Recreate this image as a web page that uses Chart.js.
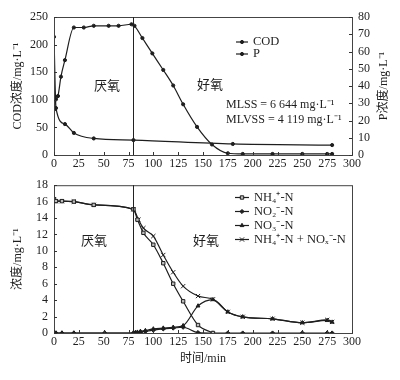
<!DOCTYPE html>
<html>
<head>
<meta charset="utf-8">
<script src="https://cdn.jsdelivr.net/npm/chart.js@4/dist/chart.umd.min.js"></script>
<style>
html,body{margin:0;padding:0;background:#fff;}
#wrap{width:400px;height:380px;position:relative;}
canvas{display:block;}
</style>
</head>
<body>
<div id="wrap">
<canvas id="top" width="400" height="172"></canvas>
<canvas id="bot" width="400" height="208"></canvas>
</div>
<script>
// ---------- data ----------
const phaseBoundary = 80;           // min, anaerobic / aerobic switch
const xTicksMax = 300;

// top panel
const codTime   = [0, 2, 11, 20, 40, 80, 180, 280];
const codValues = [214, 85, 56, 40, 30, 27, 20, 18];                 // mg/L (left axis)
const pTime   = [0, 2, 4, 7, 11, 20, 30, 40, 55, 65, 78, 81, 89, 99, 110, 120, 130, 144, 159, 175, 190, 220, 250, 275, 280];
const pValues = [26.2, 32.3, 34.2, 45.4, 55.0, 73.9, 73.9, 74.9, 74.9, 74.9, 75.8, 74.9, 67.8, 58.9, 49.3, 40.3, 29.4, 16.3, 6.1, 1.0, 0.6, 0.6, 0.6, 0.6, 0.6]; // mg/L (right axis)

// bottom panel
const nh4Time   = [0, 2, 8, 20, 40, 80, 84, 90, 100, 110, 120, 130, 145, 160];
const nh4Values = [16.3, 16.06, 16.06, 16.0, 15.6, 15.06, 13.8, 12.2, 10.75, 8.5, 6.0, 3.86, 0.97, 0];
const noxTime   = [0, 2, 8, 20, 51, 80, 82, 84, 87, 92, 100, 110, 120, 130, 145, 160, 175, 190, 220, 250, 275, 280];
const no2Values = [0, 0, 0, 0, 0, 0, 0.03, 0.06, 0.1, 0.2, 0.35, 0.5, 0.6, 0.7, 0.05, 0, 0, 0, 0, 0, 0, 0];
const no3Values = [0, 0, 0, 0, 0, 0, 0.05, 0.1, 0.2, 0.3, 0.5, 0.6, 0.7, 0.9, 3.3, 4.07, 2.57, 1.97, 1.73, 1.25, 1.53, 1.33];
const sumTime   = [0, 2, 8, 20, 40, 80, 85, 90, 100, 110, 120, 130, 145, 160, 175, 190, 220, 250, 275, 280];
const sumValues = [16.3, 16.06, 16.06, 16.0, 15.6, 15.06, 13.8, 12.77, 11.8, 9.5, 7.4, 5.7, 4.5, 4.1, 2.57, 1.97, 1.73, 1.25, 1.6, 1.35];

// labels
const topLegend = ['COD', 'P'];
const botLegend = ['NH₄⁺-N', 'NO₂⁻-N', 'NO₃⁻-N', 'NH₄⁺-N + NOₓ⁻-N'];
const phaseLabels = ['厌氧', '好氧'];
const topLeftTitle = 'COD浓度/mg·L⁻¹';
const topRightTitle = 'P浓度/mg·L⁻¹';
const botLeftTitle = '浓度/mg·L⁻¹';
const botXTitle = '时间/min';
const mlssText = ['MLSS = 6 644 mg·L⁻¹', 'MLVSS = 4 119 mg·L⁻¹'];

// ---------- helpers ----------
const pts = (t, v) => t.map((x, i) => ({x, y: v[i]}));
const FONT = "'Liberation Serif','Noto Sans CJK SC',serif";
const INK = '#1e1e1e';
Chart.defaults.font.family = FONT;
Chart.defaults.font.size = 12;
Chart.defaults.color = INK;

function xScale(h) {
  return {
    type: 'linear', min: 0, max: xTicksMax,
    ticks: {stepSize: 25, padding: 2, autoSkip: false, maxRotation: 0, font: {size: 12}, color: INK},
    grid: {drawOnChartArea: false, drawTicks: false},
    border: {color: '#333', width: 1},
    afterFit: s => { s.height = h; }
  };
}
function yScale(min, max, step, pos, w) {
  return {
    type: 'linear', min, max, position: pos,
    ticks: {stepSize: step, padding: 6, autoSkip: false, font: {size: 12}, color: INK},
    grid: {drawOnChartArea: false, drawTicks: false},
    border: {color: '#333', width: 1},
    afterFit: s => { s.width = w; }
  };
}
function ds(label, data, style, radius, axis, fill) {
  return {
    label, data, yAxisID: axis || 'y',
    borderColor: INK, borderWidth: 1.2,
    pointStyle: style, pointRadius: radius, pointHoverRadius: radius,
    pointBackgroundColor: fill || INK, pointBorderColor: INK, pointBorderWidth: 1,
    cubicInterpolationMode: 'monotone', tension: 0.4, fill: false
  };
}

function decoPlugin(cfg) {
  return {
    id: 'deco',
    afterDraw(chart) {
      const ctx = chart.ctx, a = chart.chartArea, sx = chart.scales.x;
      ctx.save();
      // frame
      ctx.strokeStyle = '#444'; ctx.lineWidth = 1;
      ctx.strokeRect(a.left + 0.5, a.top + 0.5, a.right - a.left, a.bottom - a.top);
      // phase boundary
      const xb = Math.round(sx.getPixelForValue(phaseBoundary)) + 0.5;
      ctx.strokeStyle = '#222';
      ctx.beginPath(); ctx.moveTo(xb, a.top); ctx.lineTo(xb, a.bottom); ctx.stroke();
      // inside ticks
      ctx.strokeStyle = '#333';
      ctx.beginPath();
      sx.ticks.forEach((t, i) => {
        const px = Math.round(sx.getPixelForTick(i)) + 0.5;
        ctx.moveTo(px, a.bottom); ctx.lineTo(px, a.bottom - 3);
      });
      const sy = chart.scales.y;
      sy.ticks.forEach((t, i) => {
        const py = Math.round(sy.getPixelForTick(i)) + 0.5;
        ctx.moveTo(a.left, py); ctx.lineTo(a.left + 3, py);
      });
      if (chart.scales.y1) {
        const s1 = chart.scales.y1;
        s1.ticks.forEach((t, i) => {
          const py = Math.round(s1.getPixelForTick(i)) + 0.5;
          ctx.moveTo(a.right, py); ctx.lineTo(a.right - 3, py);
        });
      }
      ctx.stroke();
      // axis titles
      ctx.fillStyle = INK;
      ctx.textAlign = 'center'; ctx.textBaseline = 'middle';
      ctx.font = '12px ' + FONT;
      const cy = (a.top + a.bottom) / 2;
      ctx.save(); ctx.translate(18, cy); ctx.rotate(-Math.PI / 2);
      ctx.fillText(cfg.leftTitle, 0, 0); ctx.restore();
      if (cfg.rightTitle) {
        ctx.save(); ctx.translate(384, cy); ctx.rotate(-Math.PI / 2);
        ctx.fillText(cfg.rightTitle, 0, 0); ctx.restore();
      }
      if (cfg.xTitle) {
        ctx.fillText(cfg.xTitle, (a.left + a.right) / 2, cfg.xTitleY);
      }
      // phase labels
      ctx.font = '13px ' + FONT;
      ctx.fillText(phaseLabels[0], cfg.phasePos[0][0], cfg.phasePos[0][1]);
      ctx.fillText(phaseLabels[1], cfg.phasePos[1][0], cfg.phasePos[1][1]);
      // extra text
      ctx.font = '12px ' + FONT; ctx.textAlign = 'left';
      (cfg.extra || []).forEach(e => ctx.fillText(e.text, e.x, e.y));
      // legend
      const L = cfg.legend;
      chart.data.datasets.forEach((d, i) => {
        const y = L.y + i * L.dy;
        ctx.strokeStyle = INK; ctx.lineWidth = 1.2;
        ctx.beginPath(); ctx.moveTo(L.x, y); ctx.lineTo(L.x + L.len, y); ctx.stroke();
        ctx.fillStyle = d.pointBackgroundColor; ctx.strokeStyle = INK; ctx.lineWidth = 1;
        Chart.helpers.drawPoint(ctx, {pointStyle: d.pointStyle, radius: d.pointRadius, rotation: 0, borderWidth: 1}, L.x + L.len / 2, y);
        ctx.fillStyle = INK; ctx.textAlign = 'left'; ctx.font = '12.5px ' + FONT;
        ctx.fillText(d.label, L.x + L.len + 5, y);
      });
      ctx.restore();
    }
  };
}

const common = {
  responsive: false, devicePixelRatio: 1, animation: false,
  plugins: {legend: {display: false}, tooltip: {enabled: false}}
};

new Chart(document.getElementById('top'), {
  type: 'line',
  data: {datasets: [
    ds(topLegend[0], pts(codTime, codValues), 'circle', 1.6, 'y'),
    ds(topLegend[1], pts(pTime, pValues), 'circle', 1.6, 'y1')
  ]},
  options: Object.assign({}, common, {
    layout: {padding: {top: 17, left: 0, right: 0, bottom: 0}},
    scales: {
      x: xScale(17),
      y: yScale(0, 250, 50, 'left', 54),
      y1: yScale(0, 80, 10, 'right', 48)
    }
  }),
  plugins: [decoPlugin({
    leftTitle: topLeftTitle, rightTitle: topRightTitle,
    phasePos: [[107, 87], [210, 86]],
    extra: [{text: mlssText[0], x: 226, y: 105}, {text: mlssText[1], x: 226, y: 120}],
    legend: {x: 236, y: 42, dy: 12, len: 12}
  })]
});

new Chart(document.getElementById('bot'), {
  type: 'line',
  data: {datasets: [
    ds(botLegend[0], pts(nh4Time, nh4Values), 'rect', 2.4, 'y', '#bdbdbd'),
    ds(botLegend[1], pts(noxTime, no2Values), 'rectRot', 2.1, 'y'),
    ds(botLegend[2], pts(noxTime, no3Values), 'triangle', 2.2, 'y'),
    ds(botLegend[3], pts(sumTime, sumValues), 'crossRot', 3.0, 'y')
  ]},
  options: Object.assign({}, common, {
    layout: {padding: {top: 12, left: 0, right: 48, bottom: 0}},
    scales: {
      x: xScale(47),
      y: yScale(0, 18, 2, 'left', 54)
    }
  }),
  plugins: [decoPlugin({
    leftTitle: botLeftTitle, xTitle: botXTitle, xTitleY: 187,
    phasePos: [[94, 70], [206, 70]],
    legend: {x: 235, y: 25.5, dy: 14, len: 14}
  })]
});
</script>
</body>
</html>
